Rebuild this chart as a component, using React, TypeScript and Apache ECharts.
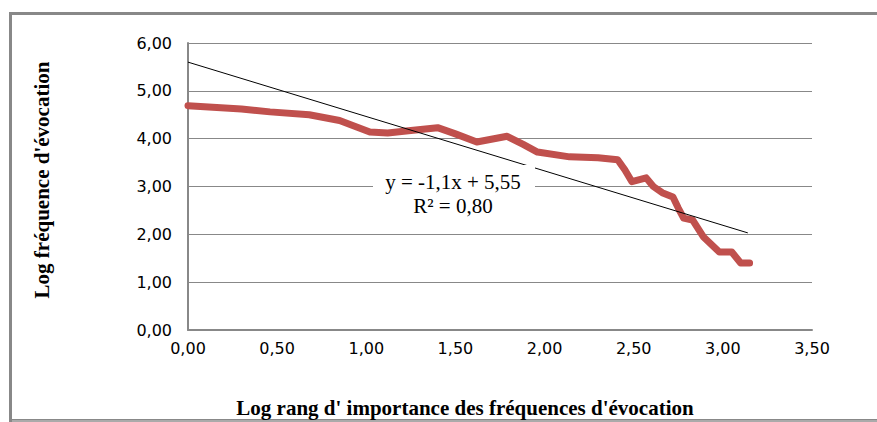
import React, { useEffect, useRef } from "react";
import * as echarts from "echarts";

const rankLog = [0, 0.3, 0.46, 0.68, 0.85, 1.02, 1.12, 1.25, 1.4, 1.5, 1.62, 1.79, 1.88, 1.96, 2.14, 2.3, 2.41, 2.45, 2.49, 2.57, 2.61, 2.66, 2.72, 2.75, 2.78, 2.83, 2.89, 2.98, 3.05, 3.1, 3.15];
const freqLog = [4.69, 4.62, 4.56, 4.5, 4.38, 4.14, 4.12, 4.17, 4.23, 4.1, 3.93, 4.05, 3.88, 3.72, 3.62, 3.6, 3.56, 3.35, 3.1, 3.18, 3.0, 2.87, 2.78, 2.55, 2.34, 2.3, 1.95, 1.63, 1.63, 1.4, 1.4];
const trendX = [0, 3.14];
const trendY = [5.6, 2.03];
const equationLines = ["y = -1,1x + 5,55", "R² = 0,80"];
const xTitle = "Log rang d' importance des fréquences d'évocation";
const yTitle = "Log fréquence d'évocation";

const fmt = (v: number) => v.toFixed(2).replace(".", ",");

export default function App() {
  const ref = useRef<HTMLDivElement>(null);
  useEffect(() => {
    if (!ref.current) return;
    const chart = echarts.init(ref.current, null, { renderer: "svg" });
    const serif = "Liberation Serif";
    const txt = (text: string, x: number, y: number, size: number, bold: boolean, rot = 0) => ({
      type: "text",
      x,
      y,
      rotation: rot,
      z: 21,
      style: {
        text,
        fontFamily: serif,
        fontSize: size,
        fontWeight: bold ? "bold" : "normal",
        fill: "#000",
        align: "center",
        verticalAlign: "middle",
      },
    });
    chart.setOption({
      animation: false,
      backgroundColor: "#fff",
      grid: { left: 188, right: 65, top: 43, bottom: 92 },
      xAxis: {
        type: "value",
        min: 0,
        max: 3.5,
        interval: 0.5,
        axisLine: { show: true, lineStyle: { color: "#888", width: 2 } },
        axisTick: { show: false },
        splitLine: { show: false },
        axisLabel: { formatter: fmt, color: "#000", fontFamily: "DejaVu Sans", fontSize: 16, margin: 10 },
      },
      yAxis: {
        type: "value",
        min: 0,
        max: 6,
        interval: 1,
        axisLine: { show: true, lineStyle: { color: "#888", width: 2 } },
        axisTick: { show: false },
        splitLine: { show: true, lineStyle: { color: "#888", width: 1 } },
        axisLabel: { formatter: fmt, color: "#000", fontFamily: "DejaVu Sans", fontSize: 16, margin: 16 },
      },
      series: [
        {
          type: "line",
          data: rankLog.map((x, i) => [x, freqLog[i]]),
          symbol: "none",
          lineStyle: { color: "#c0504d", width: 7, cap: "round", join: "round" },
          z: 2,
        },
        {
          type: "line",
          data: trendX.map((x, i) => [x, trendY[i]]),
          symbol: "none",
          lineStyle: { color: "#000", width: 1 },
          z: 3,
        },
      ],
      graphic: [
        { type: "rect", shape: { x: 10.5, y: 13.5, width: 900, height: 407 }, style: { fill: "none", stroke: "#888", lineWidth: 3 }, silent: true, z: 10 },
        { type: "line", shape: { x1: 12, y1: 421, x2: 877, y2: 421 }, style: { stroke: "#ccc", lineWidth: 1 }, z: 11 },
        { type: "rect", shape: { x: 373, y: 165, width: 162, height: 52 }, style: { fill: "#fff" }, z: 20 },
        txt(equationLines[0], 453, 182, 21, false),
        txt(equationLines[1], 453, 206, 21, false),
        txt(xTitle, 465, 408, 21, true),
        txt(yTitle, 42, 180, 21, true, Math.PI / 2),
      ],
    });
    return () => chart.dispose();
  }, []);
  return <div ref={ref} style={{ position: "fixed", left: 0, top: 0, width: 877, height: 422 }} />;
}
